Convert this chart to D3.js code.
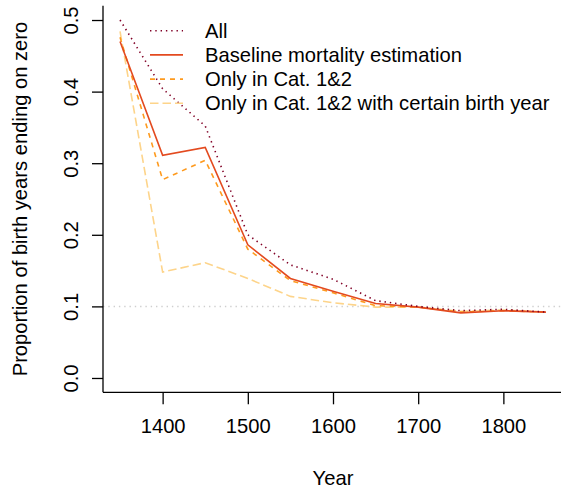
<!DOCTYPE html>
<html>
<head>
<meta charset="utf-8">
<script src="https://cdn.jsdelivr.net/npm/d3@7"></script>
<style>
  html, body { margin: 0; padding: 0; background: #fff; }
  svg text { font-family: "Liberation Sans", Arial, Helvetica, sans-serif; fill: #000; }
</style>
</head>
<body>
<svg id="chart" width="561" height="496"></svg>
<script>
const years = [1350, 1400, 1450, 1500, 1550, 1600, 1650, 1700, 1750, 1800, 1850];
const allVals = [0.500, 0.404, 0.352, 0.200, 0.158, 0.138, 0.108, 0.100, 0.094, 0.096, 0.092];
const baselineVals = [0.470, 0.311, 0.322, 0.186, 0.139, 0.121, 0.104, 0.099, 0.091, 0.094, 0.092];
const cat12Vals = [0.476, 0.277, 0.304, 0.180, 0.136, 0.119, 0.101, 0.099, 0.092, 0.094, 0.092];
const certainVals = [0.484, 0.148, 0.161, 0.139, 0.114, 0.105, 0.099, 0.099, 0.093, 0.095, 0.092];
const seriesNames = ["All", "Baseline mortality estimation", "Only in Cat. 1&2", "Only in Cat. 1&2 with certain birth year"];
const xTicks = [1400, 1500, 1600, 1700, 1800];
const yTicks = [0.0, 0.1, 0.2, 0.3, 0.4, 0.5];
const refLine = 0.1;
const xLabel = "Year";
const yLabel = "Proportion of birth years ending on zero";

(function () {
const series = [
  { name: seriesNames[0], values: allVals, color: "#800026", dash: "1.4,3.9", width: 1.6 },
  { name: seriesNames[1], values: baselineVals, color: "#E34A1F", dash: null, width: 1.6 },
  { name: seriesNames[2], values: cat12Vals, color: "#FE9A1E", dash: "5,5", width: 1.6 },
  { name: seriesNames[3], values: certainVals, color: "#FDD48A", dash: "8.5,4", width: 1.6 }
];

const svg = d3.select("#chart");
const pL = 103, pR = 563, pT = 5.7, pB = 392.3;
const x = d3.scaleLinear().domain([1330, 1870]).range([pL, pR]);
const y = d3.scaleLinear().domain([-0.02, 0.52]).range([pB, pT]);
const fs = "20.2px";

svg.append("line")
  .attr("x1", pL).attr("x2", pR)
  .attr("y1", y(refLine)).attr("y2", y(refLine))
  .attr("stroke", "#cfcfcf").attr("stroke-width", 1.5)
  .attr("stroke-dasharray", "1.4,3.9");

const line = d3.line().x((d, i) => x(years[i])).y(d => y(d));
[...series].reverse().forEach(s => {
  svg.append("path")
    .datum(s.values)
    .attr("d", line)
    .attr("fill", "none")
    .attr("stroke", s.color)
    .attr("stroke-width", s.width)
    .attr("stroke-dasharray", s.dash);
});

const xAxis = d3.axisBottom(x).tickValues(xTicks).tickFormat(d3.format("d")).tickSizeOuter(0).tickSizeInner(12).tickPadding(14);
const gx = svg.append("g").attr("transform", `translate(0,${pB})`).call(xAxis);
gx.select(".domain").attr("stroke", "#000").attr("stroke-width", 1.3).attr("d", `M${pL},0H${pR}`);
gx.selectAll(".tick line").attr("stroke", "#000").attr("stroke-width", 1.3);
gx.selectAll(".tick text").attr("font-size", fs).attr("font-family", "Liberation Sans, Arial, sans-serif").attr("fill", "#000");

const yAxis = d3.axisLeft(y).tickValues(yTicks).tickFormat(d3.format(".1f")).tickSizeOuter(0).tickSizeInner(11);
const gy = svg.append("g").attr("transform", `translate(${pL},0)`).call(yAxis);
gy.select(".domain").attr("stroke", "#000").attr("stroke-width", 1.3).attr("d", `M0,${pB}V${pT}`);
gy.selectAll(".tick line").attr("stroke", "#000").attr("stroke-width", 1.3);
gy.selectAll(".tick text")
  .attr("font-size", fs).attr("font-family", "Liberation Sans, Arial, sans-serif").attr("fill", "#000")
  .attr("x", null)
  .attr("text-anchor", "middle")
  .attr("transform", "translate(-32,0) rotate(-90)")
  .attr("dy", "0.35em");

svg.append("text").attr("x", 333).attr("y", 478).attr("dy", "0.35em")
  .attr("text-anchor", "middle").attr("font-size", fs).text(xLabel);
svg.append("text").attr("transform", `translate(20,${(pT + pB) / 2}) rotate(-90)`).attr("dy", "0.35em")
  .attr("text-anchor", "middle").attr("font-size", fs).text(yLabel);

const legY0 = 30.7, legStep = 24.2;
series.forEach((s, i) => {
  const yy = legY0 + i * legStep;
  svg.append("line").attr("x1", 150).attr("x2", 183).attr("y1", yy).attr("y2", yy)
    .attr("stroke", s.color).attr("stroke-width", s.width).attr("stroke-dasharray", s.dash);
  svg.append("text").attr("x", 205).attr("y", yy).attr("dy", "0.35em")
    .attr("font-size", fs).text(s.name);
});
})();
</script>
</body>
</html>
